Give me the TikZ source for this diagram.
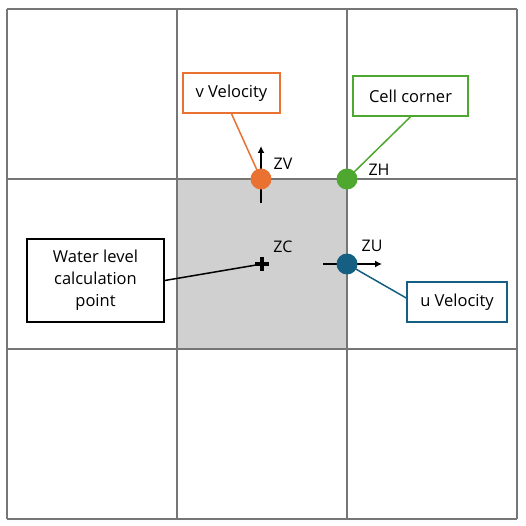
\documentclass[tikz,border=0pt]{standalone}
\usepackage{fontspec}
\setmainfont{Open Sans}
\usepackage{tikz}
\usetikzlibrary{arrows.meta}
\usepackage{xcolor}
\definecolor{myorange}{HTML}{E97132}
\definecolor{mygreen}{HTML}{4EA72E}
\definecolor{myblue}{HTML}{156082}
\definecolor{mygrid}{HTML}{767676}
\definecolor{mycell}{HTML}{D0D0D0}
\tikzset{
  >={Latex[length=7,width=7]},
  gridline/.style={mygrid,line width=1.1pt},
  callout/.style={draw,fill=white,line width=1.5pt,minimum height=40pt,
                  inner sep=2pt,font=\fontsize{16.5}{20}\selectfont},
  dot/.style={circle,minimum size=21pt,inner sep=0pt},
  lbl/.style={font=\fontsize{16}{18}\selectfont,inner sep=0pt},
  leader/.style={line width=1.5pt},
  flow/.style={->,line width=2.5pt,black}
}
\begin{document}
\begin{tikzpicture}[x=1pt,y=-1pt]
   \useasboundingbox (0,0) rectangle (526,526);
   % Shaded centre cell
   \fill[mycell] (177,179) rectangle (347,349);
   % Draw the 3x3 grid
   \foreach \c in {7,177,347,517}{%
   \draw[gridline] (\c,9) -- (\c,519);
   \draw[gridline] (7,\c+2) -- (517,\c+2);
   }
   % Velocity arrows
   \coordinate (vtail) at (261,203);
   \coordinate (vhead) at (261,146);
   \coordinate (utail) at (323,264);
   \coordinate (uhead) at (382,264);
   \draw[flow] (vtail) -- (vhead);
   \draw[flow] (utail) -- (uhead);
   % Water level point (plus mark)
   \coordinate (zc) at (262,264);
   \draw[line width=3.5pt] (zc) +(-7,0) -- +(7,0) (zc) +(0,-7) -- +(0,7);
   % Callout boxes
   \node[callout,draw=myorange,minimum width=97pt] (vbox) at (231.5,93) {v Velocity};
   \node[callout,draw=mygreen,minimum width=115pt] (hbox) at (410.5,96) {Cell corner};
   \node[callout,draw=black,minimum width=137pt,minimum height=83pt,align=center,
         font=\fontsize{16.5}{22}\selectfont] (wbox) at (95.5,280.5) {Water level\\calculation\\point};
   \node[callout,draw=myblue,minimum width=100pt] (ubox) at (457,302) {u Velocity};
   % Leader lines
   \draw[leader,myorange] (vbox.south) -- (261,179);
   \draw[leader,mygreen] (hbox.south) -- (347,179);
   \draw[leader,black] (wbox.east) -- (zc);
   \draw[leader,myblue] ([yshift=4pt]ubox.west) -- (347,264);
   % Points on the grid
   \node[dot,fill=myorange] (vdot) at (261,179) {};
   \node[dot,fill=mygreen] (hdot) at (347,179) {};
   \node[dot,fill=myblue] (udot) at (347,264) {};
   % Labels
   \node[lbl] (zv) at (283,164) {ZV};
   \node[lbl] (zh) at (379,170) {ZH};
   \node[lbl] (zclbl) at (283,247) {ZC};
   \node[lbl] (zu) at (372,246) {ZU};
\end{tikzpicture}
\end{document}
